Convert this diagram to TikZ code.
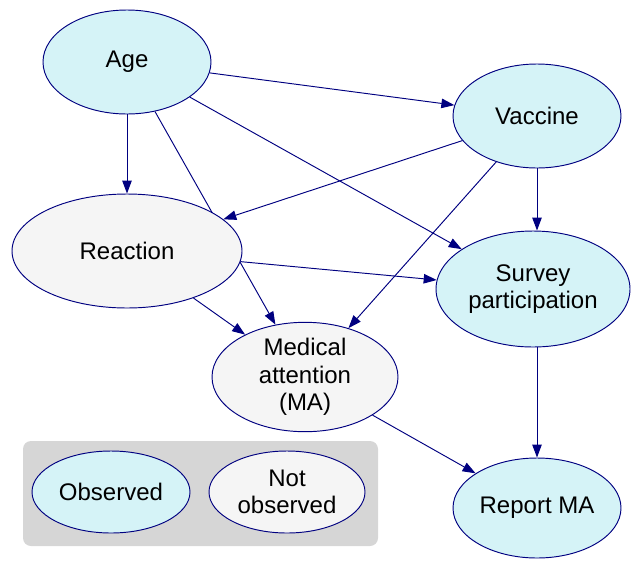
\documentclass[tikz,border=0pt]{standalone}
\usepackage{fontspec}
\setmainfont{Liberation Sans}
\usetikzlibrary{shapes.geometric,arrows.meta,backgrounds}
\definecolor{obsfill}{RGB}{213,243,247}
\definecolor{latfill}{RGB}{245,245,245}
\definecolor{legfill}{RGB}{214,214,214}
\definecolor{navy}{RGB}{0,0,128}
\begin{document}
\begin{tikzpicture}[
		x=1pt,y=-1pt,
		every node/.style={draw=navy,ellipse,line width=0.95pt,inner sep=0pt,
			align=center,font=\fontsize{24}{27.5}\selectfont},
		obs/.style={fill=obsfill},
		latent/.style={fill=latfill},
		edge/.style={draw=navy,line width=0.95pt,-{Triangle[length=13pt,width=9.5pt]}}
	]
		\useasboundingbox (0,0) rectangle (631,560);
		\node[obs,minimum width=168pt,minimum height=104pt] (age) at (127,62) {Age};
		\node[obs,minimum width=168pt,minimum height=104pt] (vac) at (537,116) {Vaccine};
		\node[latent,minimum width=230pt,minimum height=114pt] (react) at (127,251) {Reaction};
		\node[obs,minimum width=194pt,minimum height=116pt] (survey) at (533,289) {Survey\\participation};
		\node[latent,minimum width=186pt,minimum height=104pt] (ma) at (305,377) {Medical\\attention\\(MA)};
		\node[obs,minimum width=168pt,minimum height=100pt] (report) at (537,508) {Report MA};
		% legend
		\node[obs,minimum width=158pt,minimum height=82pt] (lobs) at (111,492) {Observed};
		\node[latent,minimum width=156pt,minimum height=82pt] (llat) at (287,492) {Not\\observed};
		\begin{scope}[on background layer]
		\fill[legfill,rounded corners=8pt] (23,441) rectangle (378,546);
		\draw[edge] (age) -- (ma);
		\end{scope}
		\draw[edge] (age) -- (vac);
		\draw[edge] (age) -- (react);
		\draw[edge] (age) -- (survey);
		\draw[edge] (vac) -- (react);
		\draw[edge] (vac) -- (ma);
		\draw[edge] (vac.south) -- (vac.south |- survey.north);
		\draw[edge] (react) -- (survey);
		\draw[edge] (react) -- (ma);
		\draw[edge] (ma) -- (report);
		\draw[edge] (report.north |- survey.south) -- (report.north);
	\end{tikzpicture}
\end{document}
